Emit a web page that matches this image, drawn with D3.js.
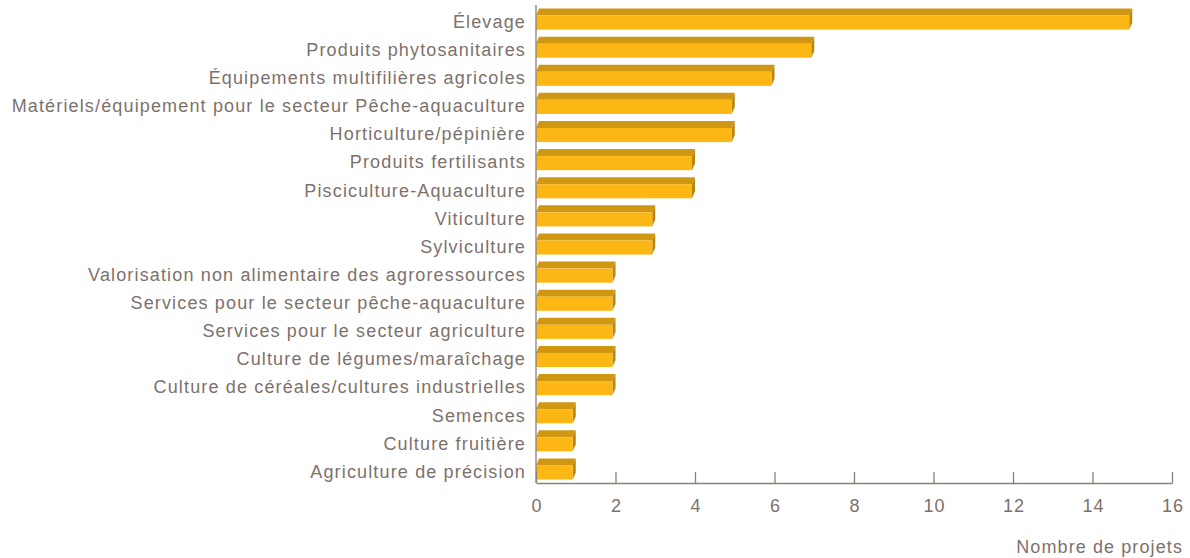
<!DOCTYPE html>
<html>
<head>
<meta charset="utf-8">
<script src="https://cdn.jsdelivr.net/npm/d3@7"></script>
<style>
  body { margin: 0; background: #fff; }
  text { font-family: "Liberation Sans", Arial, sans-serif; fill: #7d716c; }
</style>
</head>
<body>
<svg id="chart" width="1190" height="558"></svg>
<script>
var categories = [
  'Élevage',
  'Produits phytosanitaires',
  'Équipements multifilières agricoles',
  'Matériels/équipement pour le secteur Pêche-aquaculture',
  'Horticulture/pépinière',
  'Produits fertilisants',
  'Pisciculture-Aquaculture',
  'Viticulture',
  'Sylviculture',
  'Valorisation non alimentaire des agroressources',
  'Services pour le secteur pêche-aquaculture',
  'Services pour le secteur agriculture',
  'Culture de légumes/maraîchage',
  'Culture de céréales/cultures industrielles',
  'Semences',
  'Culture fruitière',
  'Agriculture de précision'
];
var values = [15, 7, 6, 5, 5, 4, 4, 3, 3, 2, 2, 2, 2, 2, 1, 1, 1];
var xTicks = [0, 2, 4, 6, 8, 10, 12, 14, 16];
var xTitle = 'Nombre de projets';

var AXIS_COLOR = '#8c7f7a',
    FRONT = '#fdb714',
    TOP = '#d09812',
    SIDE = '#b9860f',
    DEPTH_X = 3,
    DEPTH_Y = 7;

var svg = d3.select('#chart'),
    x = d3.scaleLinear().domain([0, 16]).range([536, 1172]),
    y = d3.scaleBand().domain(categories).range([5, 483]).paddingInner(0.25).paddingOuter(0.125);

var bars = svg.append('g')
  .selectAll('g')
  .data(categories.map(function(c, i) { return { name: c, value: values[i] }; }))
  .enter().append('g');

// 3D-ish bars: top face, right side face, front face
bars.append('path')
  .attr('fill', TOP)
  .attr('d', function(d) {
    var x0 = x(0), x1 = x(d.value) - DEPTH_X, yt = y(d.name) + DEPTH_Y;
    return 'M' + x0 + ',' + yt + 'L' + (x0 + DEPTH_X) + ',' + (yt - DEPTH_Y) +
      'L' + (x1 + DEPTH_X) + ',' + (yt - DEPTH_Y) + 'L' + x1 + ',' + yt + 'Z';
  });

bars.append('path')
  .attr('fill', SIDE)
  .attr('d', function(d) {
    var x1 = x(d.value) - DEPTH_X, yt = y(d.name) + DEPTH_Y, yb = y(d.name) + y.bandwidth();
    return 'M' + x1 + ',' + yt + 'L' + (x1 + DEPTH_X) + ',' + (yt - DEPTH_Y) +
      'L' + (x1 + DEPTH_X) + ',' + (yb - DEPTH_Y) + 'L' + x1 + ',' + yb + 'Z';
  });

bars.append('rect')
  .attr('fill', FRONT)
  .attr('x', x(0))
  .attr('y', function(d) { return y(d.name) + DEPTH_Y; })
  .attr('width', function(d) { return x(d.value) - DEPTH_X - x(0); })
  .attr('height', y.bandwidth() - DEPTH_Y);

// category labels
svg.append('g')
  .selectAll('text')
  .data(categories)
  .enter().append('text')
    .attr('x', 526)
    .attr('y', function(d) { return y(d) + DEPTH_Y + (y.bandwidth() - DEPTH_Y) / 2 - 1; })
    .attr('dy', '0.35em')
    .attr('text-anchor', 'end')
    .style('font-size', '18px')
    .style('letter-spacing', '1.15px')
    .text(function(d) { return d; });

// y axis line
svg.append('line')
  .attr('x1', x(0)).attr('x2', x(0))
  .attr('y1', 5).attr('y2', 483)
  .attr('stroke', AXIS_COLOR)
  .attr('stroke-width', 1.3);

// x axis
var xAxis = svg.append('g')
  .attr('transform', 'translate(0,483)')
  .call(d3.axisBottom(x).tickValues(xTicks).tickSizeInner(-11).tickSizeOuter(0).tickPadding(16));

xAxis.select('.domain').attr('stroke', AXIS_COLOR).attr('stroke-width', 1.3);
xAxis.selectAll('.tick line').attr('stroke', AXIS_COLOR).attr('stroke-width', 1.3);
xAxis.selectAll('.tick text')
  .attr('fill', '#7d716c')
  .attr('dx', '0.5px')
  .style('font-size', '18px')
  .style('letter-spacing', '1px')
  .style('font-family', '"Liberation Sans", Arial, sans-serif');

svg.append('text')
  .attr('x', 1183)
  .attr('y', 553)
  .attr('text-anchor', 'end')
  .style('font-size', '18px')
  .style('letter-spacing', '1.1px')
  .text(xTitle);
</script>
</body>
</html>
